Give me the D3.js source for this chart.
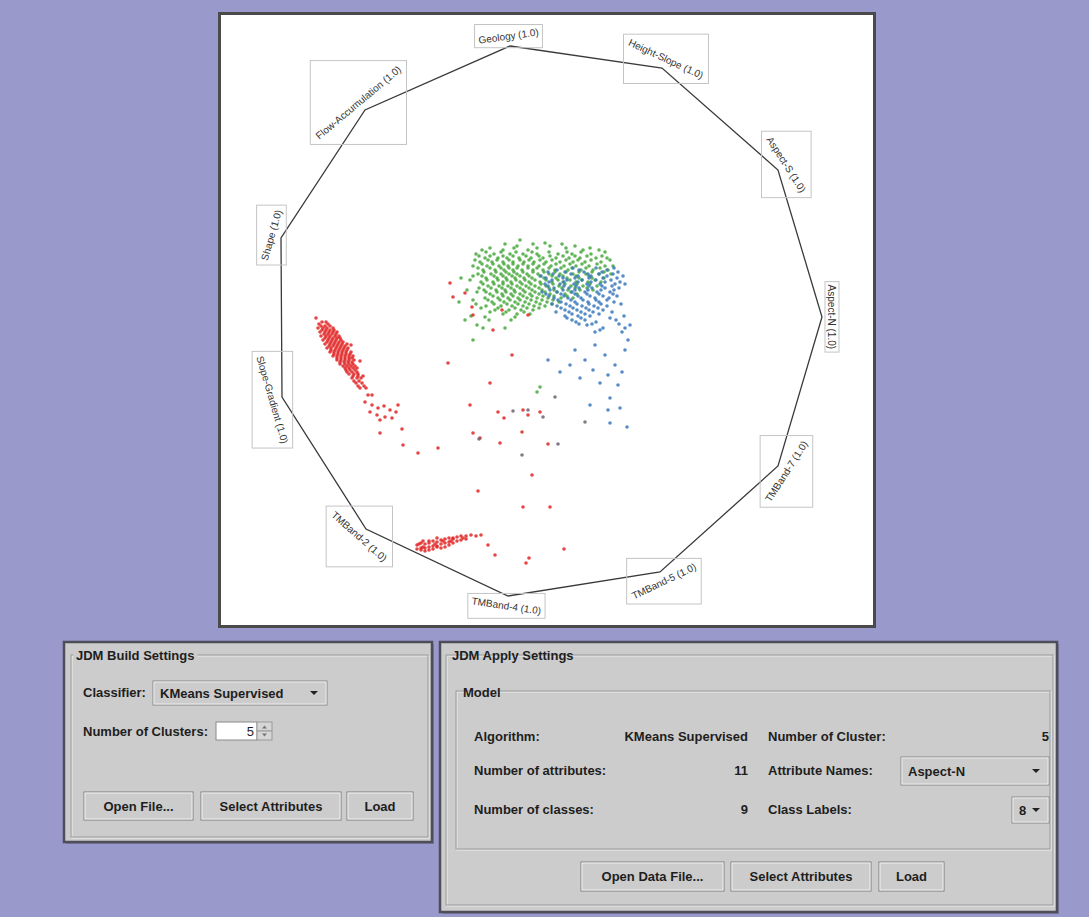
<!DOCTYPE html>
<html>
<head>
<meta charset="utf-8">
<script src="https://cdn.jsdelivr.net/npm/d3@7"></script>
<style>
  body { margin: 0; background: #9999cc; }
  svg { display: block; font-family: "Liberation Sans", Arial, sans-serif; }
</style>
</head>
<body>
<svg id="chart" width="1089" height="917"></svg>
<script>
// ---- data (radviz units, 0..55 on both axes) ----
const anchorNames = ["Geology", "Height-Slope", "Aspect-S", "Aspect-N", "TMBand-7", "TMBand-5",
                     "TMBand-4", "TMBand-2", "Slope-Gradient", "Shape", "Flow-Accumulation"];
const anchorWeights = [1.0, 1.0, 1.0, 1.0, 1.0, 1.0, 1.0, 1.0, 1.0, 1.0, 1.0];
const anchorU = [23.3, 38.5, 50.1, 54.5, 50.1, 38.3, 23.1, 8.9, 0.5, 0.4, 8.8];
const anchorV = [55.0, 52.8, 42.6, 27.9, 13.0, 2.4, 0.0, 6.7, 19.9, 35.8, 48.6];

// points per class, as rows: [v, [u, u, ...]]
const greenRows = [
  [35.6, [24.3]], [35.3, [26.8]], [35.0, [24.0, 27.3, 29.8]], [34.8, [21.3]],
  [35.2, [22.8, 25.6, 28.5]], [34.8, [23.7, 26.0, 28.9, 31.3]],
  [34.6, [20.5, 22.6, 25.1, 30.6, 32.2]],
  [34.4, [20.9, 22.4, 23.9, 25.5, 27.2, 29.0, 30.4, 32.8]],
  [34.2, [19.9, 21.7, 23.3, 24.6, 26.0, 28.1, 29.5, 31.4]],
  [34.0, [20.2, 21.3, 22.6, 23.6, 24.9, 26.2, 27.3, 28.6, 29.8, 31.0, 32.5]],
  [33.8, [20.8, 22.1, 23.0, 24.2, 25.4, 26.6, 27.9, 29.2, 30.3, 31.9, 33.0]],
  [33.6, [19.8, 21.1, 22.0, 23.2, 24.3, 25.2, 26.3, 27.5, 28.9, 30.1, 31.4, 33.3]],
  [33.4, [20.3, 21.5, 22.6, 23.6, 24.7, 25.7, 26.9, 28.3, 29.6, 30.8, 32.4]],
  [33.2, [20.5, 21.6, 22.7, 23.6, 24.6, 25.6, 26.7, 27.9, 29.3, 30.5, 32.0]],
  [33.0, [19.6, 21.0, 22.2, 23.1, 24.1, 25.1, 26.2, 27.4, 28.7, 29.9, 31.2, 32.8, 33.6]],
  [32.8, [20.1, 21.3, 22.4, 23.2, 24.0, 25.1, 26.0, 27.2, 28.4, 29.5, 30.9, 32.3]],
  [32.6, [20.6, 21.8, 22.7, 23.6, 24.5, 25.6, 26.6, 27.8, 29.1, 30.4, 31.6, 33.1]],
  [32.4, [20.7, 21.9, 22.9, 23.7, 24.6, 25.6, 26.7, 27.8, 28.9, 30.2, 31.5, 32.7]],
  [32.2, [20.1, 21.4, 22.4, 23.2, 24.0, 25.0, 26.1, 27.2, 28.3, 29.6, 30.9, 32.2, 33.4]],
  [32.0, [19.6, 20.5, 21.7, 22.6, 23.5, 24.3, 25.2, 26.3, 27.5, 28.6, 29.9, 31.2]],
  [31.8, [18.4, 20.9, 22.0, 22.9, 23.8, 24.7, 25.5, 26.7, 27.9, 29.0, 30.2, 31.5, 32.7]],
  [31.6, [19.3, 21.0, 22.1, 23.0, 23.9, 24.8, 25.8, 26.9, 28.1, 29.3, 30.5, 31.8]],
  [31.4, [20.4, 21.6, 22.6, 23.4, 24.3, 25.2, 26.3, 27.5, 28.6, 29.9, 31.1, 32.4]],
  [31.2, [20.6, 21.7, 22.6, 23.5, 24.5, 25.4, 26.4, 27.6, 28.8, 30.0, 31.3]],
  [31.0, [21.1, 22.2, 23.1, 24.0, 24.9, 25.8, 26.9, 28.2, 29.4, 30.6, 32.0]],
  [30.8, [20.2, 21.4, 22.5, 23.4, 24.3, 25.2, 26.2, 27.2, 28.5, 29.8, 31.0]],
  [30.6, [19.0, 20.7, 21.9, 22.8, 23.7, 24.6, 25.5, 26.5, 27.7, 29.1, 30.3, 31.6]],
  [30.4, [20.0, 20.9, 22.0, 22.9, 23.8, 24.8, 25.8, 26.8, 28.0, 29.4]],
  [30.2, [21.3, 22.5, 23.4, 24.3, 25.3, 26.2, 27.3, 28.8, 30.0]],
  [30.0, [21.6, 22.6, 23.6, 24.6, 25.5, 26.6, 27.7, 29.0]],
  [29.8, [20.8, 22.1, 23.1, 24.1, 25.0, 26.0, 27.1, 28.4, 29.6]],
  [29.6, [19.6, 21.1, 22.3, 23.3, 24.3, 25.4, 26.5, 27.6]],
  [29.4, [18.2, 21.5, 22.7, 23.8, 24.8, 25.9, 27.0, 28.2]],
  [29.2, [19.9, 21.7, 23.0, 24.1, 25.2, 26.3, 27.5]],
  [29.0, [20.9, 22.4, 23.5, 24.6, 25.7, 26.8]],
  [28.8, [20.4, 22.1, 23.8, 25.0, 26.2]],
  [28.6, [21.8, 23.2, 24.4, 25.6]], [28.4, [21.3, 22.9, 24.7]], [28.2, [22.6, 24.0, 25.3]],
  [28.0, [19.4]], [27.9, [20.8, 23.8]],
  [27.6, [18.8, 21.2, 23.4]], [27.1, [20.0]], [26.8, [20.6, 22.8]], [25.6, [19.6]],
  [20.9, [26.3]], [20.4, [26.0]]
];
const blueRows = [
  [32.8, [29.6, 31.9, 33.7]], [32.6, [28.0, 30.2, 33.0]],
  [32.4, [27.1, 28.8, 30.7, 32.5, 34.1]], [32.2, [27.6, 29.4, 31.1, 32.2, 33.6]],
  [32.0, [26.4, 28.2, 30.1, 31.4, 33.0, 34.6]], [31.8, [26.9, 28.6, 29.8, 31.2, 32.6, 34.0]],
  [31.6, [27.5, 29.0, 30.5, 31.9, 33.4]], [31.4, [27.2, 28.7, 30.1, 31.4, 32.8, 34.3]],
  [31.2, [26.8, 28.3, 29.7, 31.0, 32.3, 33.8, 34.8]], [31.0, [27.1, 28.7, 29.9, 31.2, 32.5, 33.5]],
  [30.8, [27.7, 29.2, 30.2, 31.5, 32.8, 34.2]], [30.6, [27.3, 28.6, 29.8, 31.1, 32.4, 33.7]],
  [30.4, [26.5, 28.0, 29.5, 30.8, 32.0, 33.3]], [30.2, [26.9, 28.4, 29.8, 31.0, 32.2, 33.6]],
  [30.0, [27.2, 28.7, 30.1, 31.3, 32.6, 34.0]], [29.8, [27.7, 29.1, 30.4, 31.8, 33.2]],
  [29.6, [28.1, 29.4, 30.6, 31.9, 33.0]], [29.4, [28.4, 29.8, 31.1, 32.2, 33.7]],
  [29.2, [27.5, 28.9, 30.0, 31.2, 32.4, 34.4]], [29.0, [28.0, 29.3, 30.5, 31.7, 33.0]],
  [28.8, [28.4, 29.6, 30.9, 32.1]], [28.6, [28.8, 30.0, 31.2, 32.6]],
  [28.4, [27.9, 29.2, 30.4, 31.6, 33.5]], [28.2, [29.5, 30.8, 32.2]],
  [28.0, [28.8, 30.1, 31.3, 34.7]], [27.8, [29.0, 30.4, 33.3]],
  [27.6, [29.5, 30.8, 33.9]], [27.4, [29.9, 31.9]], [27.2, [30.2, 31.5, 34.2]],
  [27.1, [31.0, 35.3]], [26.8, [32.6, 34.8]], [26.6, [32.3]], [26.4, [31.8, 34.5]],
  [25.6, [35.1]], [25.1, [31.8]], [24.6, [29.8, 34.8]], [24.1, [32.8]], [23.6, [27.1, 30.8]],
  [23.1, [29.3, 33.8]], [22.6, [31.6]], [22.4, [28.3, 34.5]], [22.1, [33.1]], [21.8, [30.3]],
  [21.3, [32.3]], [21.1, [34.1]], [19.8, [33.3]], [19.1, [31.3]], [18.8, [34.3]],
  [18.6, [33.1]], [17.3, [33.3]], [16.9, [35.0]]
];
const redRows = [
  // left elongated cluster
  [27.8, [3.9]], [27.4, [4.5, 4.9]], [27.2, [4.2, 5.1]], [27.0, [4.4, 4.8, 5.3]],
  [26.8, [4.1, 4.6, 5.0, 5.6]], [26.6, [4.5, 4.9, 5.3, 5.7]], [26.4, [4.3, 4.8, 5.2, 5.6, 6.0]],
  [26.2, [4.7, 5.1, 5.5, 5.9]], [26.0, [4.4, 4.9, 5.3, 5.8, 6.2]],
  [25.8, [4.8, 5.2, 5.6, 6.0, 6.3]], [25.6, [4.6, 5.1, 5.5, 5.9, 6.4]],
  [25.4, [5.0, 5.4, 5.8, 6.2, 6.6]], [25.2, [4.8, 5.3, 5.7, 6.1, 6.5, 7.0]],
  [25.1, [7.4]], [25.0, [5.2, 5.6, 6.0, 6.4, 6.8]], [24.8, [5.0, 5.4, 5.9, 6.3, 6.7, 7.1]],
  [24.6, [5.4, 5.8, 6.2, 6.6, 7.0]], [24.4, [5.3, 5.7, 6.1, 6.5, 6.9, 7.4]],
  [24.2, [5.7, 6.1, 6.5, 6.9, 7.3]], [24.0, [5.6, 6.0, 6.4, 6.8, 7.2, 7.6]],
  [23.8, [6.0, 6.4, 6.8, 7.2, 7.5]], [23.6, [6.0, 6.4, 6.8, 7.2, 7.7]], [23.5, [8.3]],
  [23.4, [6.3, 6.7, 7.1, 7.5]], [23.2, [6.3, 6.8, 7.2, 7.6]], [23.0, [6.6, 7.0, 7.4, 7.8]],
  [22.8, [6.8, 7.2, 7.6, 8.0]], [22.6, [6.9, 7.3, 7.8]], [22.4, [7.0, 7.5, 8.0]],
  [22.2, [7.2, 7.7, 8.1]], [22.0, [7.6, 8.1, 8.6]], [21.8, [7.5, 8.0, 8.4]],
  [21.5, [7.7, 8.2]], [21.3, [7.9, 8.5]], [21.0, [8.1, 8.7]],
  [20.8, [8.3, 8.9]], [20.1, [9.1, 9.5]], [19.4, [8.8]], [19.1, [9.5, 12.1]], [19.0, [10.7]],
  [18.8, [10.1]], [18.6, [11.3]], [18.4, [9.3, 11.9]], [18.1, [10.0]], [17.9, [10.8]],
  [17.8, [11.5]], [17.6, [10.3]], [16.3, [10.3]], [15.1, [12.6]], [14.3, [14.1]], [14.8, [16.1]],
  // bottom cluster near TMBand-2 / TMBand-4
  [6.1, [19.4, 20.4]], [6.0, [18.4, 18.9, 19.9]], [5.9, [18.0]], [5.8, [17.2, 16.0, 17.6, 18.6]],
  [5.7, [16.8, 17.6, 18.9]], [5.6, [16.4, 18.4]], [5.5, [15.6, 18.0, 14.6, 15.2, 16.6, 17.4]],
  [5.4, [16.0, 17.2]], [5.3, [14.4, 15.2, 16.8, 17.6]], [5.2, [14.8, 16.4, 14.2, 15.8]],
  [5.1, [14.0, 17.2]], [5.0, [15.6, 16.0]], [4.9, [15.2, 14.6, 16.0, 16.8]],
  [4.8, [14.4, 14.8, 16.4]], [4.7, [14.0, 15.6]], [4.6, [14.4, 15.2]], [4.5, [14.8]],
  // scattered
  [31.3, [17.3]], [29.9, [17.6]], [30.3, [18.8]], [28.1, [19.6, 25.1]], [28.9, [19.5]],
  [28.6, [22.5]], [26.6, [21.6]], [23.3, [17.1]], [24.1, [23.5]], [21.3, [21.3]],
  [19.1, [19.3]], [18.4, [22.1, 26.3]], [16.3, [19.6]], [16.4, [24.5]], [15.8, [20.3]],
  [17.8, [22.7]], [18.6, [24.6]], [18.1, [25.1]], [16.7, [12.5]], [15.3, [22.3]],
  [15.2, [27.1]], [12.1, [25.5]], [10.5, [20.1]], [8.9, [24.6, 27.3]], [5.1, [21.1]],
  [4.1, [21.8]], [3.3, [24.9]], [3.8, [25.2]], [4.7, [28.7]]
];
const greyRows = [
  [18.5, [23.6]], [15.7, [20.2]], [14.1, [24.5]], [17.4, [30.8]], [19.9, [27.8]],
  [17.9, [26.6]], [15.2, [28.1]], [18.6, [25.1]]
];

const classColors = { red: "#e02424", green: "#48a83c", blue: "#3a78bc", grey: "#6e6272" };

// ---- UI text ----
const buildTitle = "JDM Build Settings";
const applyTitle = "JDM Apply Settings";

// ---- drawing ----
const svg = d3.select("#chart");
const x = d3.scaleLinear().domain([0, 55]).range([277, 827]);
const y = d3.scaleLinear().domain([0, 55]).range([596, 46]);

// plot panel
svg.append("rect")
  .attr("x", 219.5).attr("y", 13.5).attr("width", 655).attr("height", 613)
  .attr("fill", "#ffffff").attr("stroke", "#4a4a4a").attr("stroke-width", 3);

const anchors = anchorNames.map((name, i) => ({ name, w: anchorWeights[i], u: anchorU[i], v: anchorV[i] }));
const n = anchors.length;

svg.append("path")
  .datum(anchors)
  .attr("d", d3.line().x(d => x(d.u)).y(d => y(d.v)).curve(d3.curveLinearClosed))
  .attr("fill", "none").attr("stroke", "#3a3a3a").attr("stroke-width", 1.3);

// anchor labels with their boxes
const cx0 = x(27.5), cy0 = y(27.5);
const labelG = svg.append("g");
anchors.forEach((a, i) => {
  const p = anchors[(i - 1 + n) % n], q = anchors[(i + 1) % n];
  let ang = Math.atan2(y(q.v) - y(p.v), x(q.u) - x(p.u)) * 180 / Math.PI;
  if (ang > 90.5) ang -= 180;
  if (ang < -89.5) ang += 180;
  const vx = x(a.u) - cx0, vy = y(a.v) - cy0;
  const len = Math.hypot(vx, vy);
  const lx = x(a.u) + vx / len * 10, ly = y(a.v) + vy / len * 10;

  const t = labelG.append("text")
    .attr("transform", `translate(${lx},${ly}) rotate(${ang})`)
    .attr("text-anchor", "middle").attr("dy", "0.35em")
    .attr("font-size", 10).attr("fill", "#333")
    .text(`${a.name} (${a.w.toFixed(1)})`);
  const tw = t.node().getComputedTextLength() + 6, th = 14;
  const r = ang * Math.PI / 180;
  const bw = tw * Math.abs(Math.cos(r)) + th * Math.abs(Math.sin(r));
  const bh = tw * Math.abs(Math.sin(r)) + th * Math.abs(Math.cos(r));
  labelG.insert("rect", "text")
    .attr("x", lx - bw / 2).attr("y", ly - bh / 2).attr("width", bw).attr("height", bh)
    .attr("fill", "none").attr("stroke", "#c4c4c4").attr("stroke-width", 1);
});

// points
const flat = (rows, cls) => rows.flatMap(([v, us]) => us.map(u => ({ u, v, cls })));
const points = [].concat(flat(greenRows, "green"), flat(blueRows, "blue"),
                         flat(redRows, "red"), flat(greyRows, "grey"));
svg.append("g").selectAll("circle")
  .data(points)
  .enter()
  .append("circle")
  .attr("cx", d => x(d.u))
  .attr("cy", d => y(d.v))
  .attr("r", 1.8)
  .attr("fill", d => classColors[d.cls])
  .attr("fill-opacity", 0.85);

// ---- swing-like widgets ----
const ui = svg.append("g").attr("font-weight", "bold").attr("font-size", 13).attr("fill", "#1e1e1e");

function panel(x0, y0, w, h) {
  ui.append("rect").attr("x", x0 + 2).attr("y", y0 + 2).attr("width", w).attr("height", h)
    .attr("fill", "#7b7bab");
  ui.append("rect").attr("x", x0).attr("y", y0).attr("width", w).attr("height", h)
    .attr("fill", "#cccccc").attr("stroke", "#4e4e58").attr("stroke-width", 2.5);
}
function etched(x0, y0, w, h, title, tx, ty) {
  ui.append("rect").attr("x", x0 + 1).attr("y", y0 + 1).attr("width", w).attr("height", h)
    .attr("fill", "none").attr("stroke", "#eeeeee");
  ui.append("rect").attr("x", x0).attr("y", y0).attr("width", w).attr("height", h)
    .attr("fill", "none").attr("stroke", "#9a9a9a");
  const t = ui.append("text").attr("x", tx).attr("y", ty).text(title);
  const tw = t.node().getComputedTextLength();
  ui.insert("rect", "text").attr("x", tx - 3).attr("y", y0 - 4).attr("width", tw + 6).attr("height", 8)
    .attr("fill", "#cccccc");
}
function button(x0, y0, w, h, label) {
  ui.append("rect").attr("x", x0).attr("y", y0).attr("width", w).attr("height", h)
    .attr("fill", "#cccccc").attr("stroke", "#7e7e7e");
  ui.append("rect").attr("x", x0 + 1).attr("y", y0 + 1).attr("width", w - 2).attr("height", h - 2)
    .attr("fill", "none").attr("stroke", "#f0f0f0");
  ui.append("text").attr("x", x0 + w / 2).attr("y", y0 + h / 2 + 4.5)
    .attr("text-anchor", "middle").text(label);
}
function arrow(ax, ay) {
  ui.append("path").attr("d", `M${ax - 4},${ay - 2}L${ax + 4},${ay - 2}L${ax},${ay + 2}Z`).attr("fill", "#222");
}
function combo(x0, y0, w, h, label) {
  ui.append("rect").attr("x", x0).attr("y", y0).attr("width", w).attr("height", h)
    .attr("fill", "#cccccc").attr("stroke", "#8a8a8a");
  ui.append("rect").attr("x", x0 + 1).attr("y", y0 + 1).attr("width", w - 2).attr("height", h - 2)
    .attr("fill", "none").attr("stroke", "#ececec");
  ui.append("text").attr("x", x0 + 7).attr("y", y0 + h / 2 + 4.5).text(label);
  arrow(x0 + w - 13, y0 + h / 2);
}

// build settings panel
panel(64, 642, 368, 200);
etched(71, 655, 357, 182, buildTitle, 76, 660);
ui.append("text").attr("x", 83).attr("y", 697).text("Classifier:");
combo(153, 681, 174, 24, "KMeans Supervised");
ui.append("text").attr("x", 83).attr("y", 736).text("Number of Clusters:");
ui.append("rect").attr("x", 216).attr("y", 722).attr("width", 41).attr("height", 18)
  .attr("fill", "#ffffff").attr("stroke", "#8a8a8a");
ui.append("text").attr("x", 254).attr("y", 736).attr("text-anchor", "end").attr("font-weight", "normal").text("5");
ui.append("rect").attr("x", 257).attr("y", 722).attr("width", 15).attr("height", 9).attr("fill", "#d6d6d6").attr("stroke", "#9a9a9a");
ui.append("rect").attr("x", 257).attr("y", 731).attr("width", 15).attr("height", 9).attr("fill", "#d6d6d6").attr("stroke", "#9a9a9a");
ui.append("path").attr("d", "M262,728.5L267,728.5L264.5,725.5Z M262,733.5L267,733.5L264.5,736.5Z").attr("fill", "#777");
button(84, 792, 109, 28, "Open File...");
button(201, 792, 140, 28, "Select Attributes");
button(347, 792, 66, 28, "Load");

// apply settings panel
panel(440, 642, 617, 270);
etched(446, 655, 607, 250, applyTitle, 452, 660);
etched(456, 691, 594, 158, "Model", 463, 697);

const leftCol = 474, midRight = 748, rightCol = 768;
ui.append("text").attr("x", leftCol).attr("y", 741).text("Algorithm:");
ui.append("text").attr("x", midRight).attr("y", 741).attr("text-anchor", "end").text("KMeans Supervised");
ui.append("text").attr("x", rightCol).attr("y", 741).text("Number of Cluster:");
ui.append("text").attr("x", 1049).attr("y", 741).attr("text-anchor", "end").text("5");

ui.append("text").attr("x", leftCol).attr("y", 775).text("Number of attributes:");
ui.append("text").attr("x", midRight).attr("y", 775).attr("text-anchor", "end").text("11");
ui.append("text").attr("x", rightCol).attr("y", 775).text("Attribute Names:");
combo(901, 757, 148, 28, "Aspect-N");

ui.append("text").attr("x", leftCol).attr("y", 814).text("Number of classes:");
ui.append("text").attr("x", midRight).attr("y", 814).attr("text-anchor", "end").text("9");
ui.append("text").attr("x", rightCol).attr("y", 814).text("Class Labels:");
combo(1012, 797, 37, 26, "8");

button(581, 862, 143, 29, "Open Data File...");
button(731, 862, 140, 29, "Select Attributes");
button(879, 862, 65, 29, "Load");
</script>
</body>
</html>
